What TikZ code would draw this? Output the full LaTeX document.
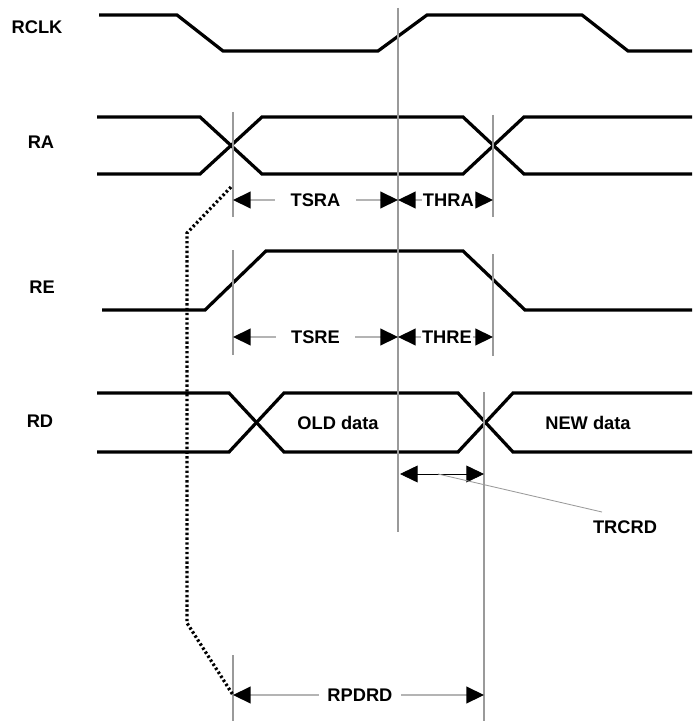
\documentclass[tikz,border=0pt]{standalone}
\usepackage{fontspec}
\setmainfont{Liberation Sans}
\usetikzlibrary{arrows.meta,positioning}
\definecolor{guidegray}{HTML}{9A9A9A}
\definecolor{dimgray}{HTML}{B4B4B4}

\begin{document}
\begin{tikzpicture}[x=0.025cm,y=-0.025cm,
    every node/.style={font=\fontsize{13}{15}\selectfont\bfseries},
    wave/.style={line width=2.3pt},
    guide/.style={guidegray,line width=0.8pt},
    dimarrow/.style={dimgray,line width=0.9pt,{Triangle[length=4.4mm,width=4.2mm,color=black]}-{Triangle[length=4.4mm,width=4.2mm,color=black]}},
    dimlabel/.style={fill=white,text=black,inner xsep=1pt,inner ysep=1pt}]
  \useasboundingbox (0,0) rectangle (692,721);
  % signal names
  \node (rclk) at (37,27) {RCLK};
  \node (ra) at (41,142) {RA};
  \node (re) at (42,287) {RE};
  \node (rd) at (40,421) {RD};
  % waveforms
  \draw[wave] (99,15) -- (177,15) -- (223,51) -- (378,51) -- (427,15) -- (582,15) -- (628,51) -- (692,51);
  \draw[wave] (97,117) -- (200,117) -- (262,174) -- (463,174) -- (524,117) -- (692,117);
  \draw[wave] (97,174) -- (200,174) -- (262,117) -- (463,117) -- (524,174) -- (692,174);
  \draw[wave] (102,310) -- (205,310) -- (266,251) -- (463,251) -- (525,310) -- (692,310);
  \draw[wave] (97,393) -- (229,393) -- (284,452) -- (458,452) -- (513,393) -- (692,393);
  \draw[wave] (97,452) -- (229,452) -- (284,393) -- (458,393) -- (513,452) -- (692,452);
  \node (old) at (338,423) {OLD data};
  \node (new) at (588,423) {NEW data};
  % guide lines
  \draw[guide] (233,112) -- (233,217);
  \draw[guide] (233,250) -- (233,355);
  \draw[guide] (233,655) -- (233,721);
  \draw[guide] (398,8) -- (398,532);
  \draw[guide] (493,115) -- (493,217);
  \draw[guide] (493,254) -- (493,356);
  \draw[guide] (484,392) -- (484,721);
  % setup / hold
  \coordinate (sa1) at (233,200);
  \coordinate (sa2) at (398,200);
  \coordinate (ha2) at (493,200);
  \coordinate (se1) at (233,337);
  \coordinate (se2) at (398,337);
  \coordinate (he2) at (493,337);
  \draw[dimarrow] (sa1) -- (sa2) node[midway,dimlabel,inner xsep=11pt] (tsra) {TSRA};
  \draw[dimarrow] (sa2) -- (ha2) node[midway,dimlabel,xshift=2pt] (thra) {THRA};
  \draw[dimarrow] (se1) -- (se2) node[midway,dimlabel,inner xsep=11pt] (tsre) {TSRE};
  \draw[dimarrow] (se2) -- (he2) node[midway,dimlabel,xshift=1pt] (thre) {THRE};
  % read clock to data
  \coordinate (rc1) at (400,474);
  \coordinate (rc2) at (484,474);
  \coordinate (rcpt) at (438,474);
  \coordinate (rcend) at (602,512);
  \node (trcrd) at (625,527) {TRCRD};
  \draw[black,line width=0.6pt,{Triangle[length=4.4mm,width=4.2mm]}-{Triangle[length=4.4mm,width=4.2mm]}] (rc1) -- (rc2);
  \draw[guidegray,line width=0.6pt] (rcpt) -- (rcend);
  % propagation delay
  \coordinate (pd1) at (233,695);
  \coordinate (pd2) at (484,695);
  \draw[dimarrow] (pd1) -- (pd2) node[midway,dimlabel,inner xsep=6pt,xshift=1pt] (rpdrd) {RPDRD};
  \draw[line width=2.3pt,dash pattern=on 1.7pt off 1.7pt] (231,187) -- (187,233) -- (187,623) -- (pd1);
\end{tikzpicture}
\end{document}
